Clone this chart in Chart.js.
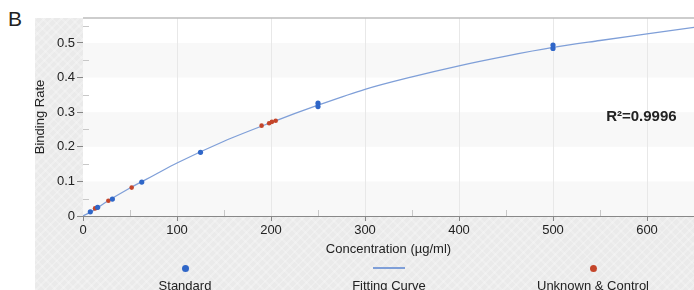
<!DOCTYPE html>
<html><head><meta charset="utf-8">
<script src="https://cdn.jsdelivr.net/npm/chart.js@4/dist/chart.umd.min.js"></script>
<style>
html,body{margin:0;padding:0;background:#fff;}
#wrap{position:relative;width:694px;height:290px;overflow:hidden;font-family:"Liberation Sans",Arial,sans-serif;}
#bg{position:absolute;left:35px;top:18px;width:659px;height:272px;background:#eaeaea;
 background-image:repeating-linear-gradient(135deg,rgba(255,255,255,0.25) 0 2px,rgba(0,0,0,0) 2px 6px),repeating-linear-gradient(45deg,rgba(255,255,255,0.2) 0 2px,rgba(0,0,0,0) 2px 7px);}
#panel{position:absolute;left:8px;top:7px;font-size:21px;color:#222;}
canvas{position:absolute;left:0;top:0;}
.leg{position:absolute;top:262px;width:200px;text-align:center;font-size:13px;color:#222;}
.leg .sym{height:12px;display:flex;align-items:center;justify-content:center;margin-bottom:4px;}
.dot{width:7px;height:7px;border-radius:50%;}
.ln{width:32px;height:1.5px;}
</style></head>
<body><div id="wrap"><div id="bg"></div><div id="panel">B</div>
<canvas id="c" width="698" height="290"></canvas>
<div id="legend"></div></div>
<script>
// ---- data ----
const standardX = [7.8, 15.6, 31.25, 62.5, 125, 250, 250, 500, 500];
const standardY = [0.012, 0.025, 0.049, 0.098, 0.184, 0.316, 0.326, 0.484, 0.494];
const unknownX = [12.8, 14.8, 27, 51.8, 190, 198, 201, 205];
const unknownY = [0.022, 0.024, 0.044, 0.082, 0.261, 0.268, 0.272, 0.275];
const curveX = [0, 10, 25, 50, 75, 100, 150, 200, 250, 300, 350, 400, 450, 500, 550, 600, 650];
const curveY = [0, 0.014, 0.041, 0.081, 0.117, 0.153, 0.216, 0.270, 0.320, 0.366, 0.402, 0.434, 0.462, 0.487, 0.507, 0.526, 0.545];
const xTicks = [0, 100, 200, 300, 400, 500, 600];
const yTicks = [0, 0.1, 0.2, 0.3, 0.4, 0.5];
const seriesNames = ["Standard", "Fitting Curve", "Unknown & Control"];
const r2Text = "R²=0.9996";
const r2Pos = [594, 0.286];

const blue = "#2f66c8", red = "#c4452a", lineCol = "#7f9fd8";
const toPts = (xs, ys) => xs.map((x, i) => ({x: x, y: ys[i]}));

const fmtY = v => (v === 0 ? "0" : v.toFixed(1));

const decor = {
  id: "decor",
  beforeDatasetsDraw(chart) {
    const {ctx, chartArea: a, scales: {x, y}} = chart;
    ctx.save();
    ctx.fillStyle = "#fff";
    ctx.fillRect(a.left, a.top, a.right - a.left, a.bottom - a.top);
    ctx.fillStyle = "#f8f8f8";
    for (let i = 0; i < yTicks.length - 1; i += 2) {
      const y0 = y.getPixelForValue(yTicks[i]), y1 = y.getPixelForValue(yTicks[i + 1]);
      ctx.fillRect(a.left, y1, a.right - a.left, y0 - y1);
    }
    ctx.strokeStyle = "#e8e8e8"; ctx.lineWidth = 1;
    xTicks.forEach(v => { if (v === 0) return; const px = Math.round(x.getPixelForValue(v)) + 0.5;
      ctx.beginPath(); ctx.moveTo(px, a.top); ctx.lineTo(px, a.bottom); ctx.stroke(); });
    ctx.strokeStyle = "#c8c8c8";
    for (let i = 0; i < xTicks.length; i++) { const v = xTicks[i] + 50; if (v >= x.max) break;
      const px = Math.round(x.getPixelForValue(v)) + 0.5;
      ctx.beginPath(); ctx.moveTo(px, a.bottom); ctx.lineTo(px, a.bottom - 6); ctx.stroke(); }
    for (let i = 0; i < yTicks.length; i++) { const v = yTicks[i] + 0.05; if (v >= y.max) break;
      const py = Math.round(y.getPixelForValue(v)) + 0.5;
      ctx.beginPath(); ctx.moveTo(a.left, py); ctx.lineTo(a.left + 6, py); ctx.stroke(); }
    ctx.strokeStyle = "#bdbdbd"; ctx.lineWidth = 1.5;
    ctx.beginPath(); ctx.moveTo(a.left, a.top); ctx.lineTo(a.right, a.top); ctx.stroke();
    ctx.restore();
  },
  afterDraw(chart) {
    const {ctx, scales: {x, y}} = chart;
    ctx.save();
    ctx.font = "bold 15px 'Liberation Sans', Arial, sans-serif";
    ctx.fillStyle = "#222"; ctx.textAlign = "center"; ctx.textBaseline = "middle";
    ctx.fillText(r2Text, x.getPixelForValue(r2Pos[0]), y.getPixelForValue(r2Pos[1]));
    ctx.restore();
  }
};

const chart = new Chart(document.getElementById("c"), {
  type: "scatter",
  data: { datasets: [
    { label: seriesNames[1], type: "line", data: toPts(curveX, curveY), borderColor: lineCol, borderWidth: 1.3,
      pointRadius: 0, cubicInterpolationMode: "monotone", fill: false, order: 3 },
    { label: seriesNames[0], data: toPts(standardX, standardY), backgroundColor: blue, borderColor: blue,
      pointRadius: 2.6, borderWidth: 0, order: 1 },
    { label: seriesNames[2], data: toPts(unknownX, unknownY), backgroundColor: red, borderColor: red,
      pointRadius: 2.3, borderWidth: 0, order: 2 }
  ]},
  options: {
    responsive: false, animation: false, devicePixelRatio: 1,
    layout: { padding: { left: 33, top: 18, right: 0, bottom: 32 } },
    plugins: { legend: { display: false }, tooltip: { enabled: false } },
    scales: {
      x: { type: "linear", min: 0, max: 650,
        afterFit: s => { s.height = 42; },
        afterBuildTicks: s => { s.ticks = xTicks.map(v => ({value: v})); },
        ticks: { color: "#222", font: { size: 13, family: "'Liberation Sans', Arial, sans-serif" }, padding: 2, maxRotation: 0 },
        grid: { drawOnChartArea: false, tickLength: 5, tickColor: "#888" },
        border: { color: "#888", width: 1 },
        title: { display: true, text: "Concentration (µg/ml)", color: "#222", padding: { top: 0, bottom: 1 },
          font: { size: 13, family: "'Liberation Sans', Arial, sans-serif" } } },
      y: { type: "linear", min: 0, max: 0.572,
        afterFit: s => { s.width = 50; },
        afterBuildTicks: s => { s.ticks = yTicks.map(v => ({value: v})); },
        ticks: { color: "#222", font: { size: 13, family: "'Liberation Sans', Arial, sans-serif" }, padding: 2,
          callback: v => fmtY(v) },
        grid: { drawOnChartArea: false, tickLength: 6, tickColor: "#888" },
        border: { color: "#888", width: 1 },
        title: { display: true, text: "Binding Rate", color: "#222", padding: 0,
          font: { size: 13, family: "'Liberation Sans', Arial, sans-serif" } } }
    }
  },
  plugins: [decor]
});

const legCenters = [185, 389, 593];
const order = [1, 0, 2];
const legend = document.getElementById("legend");
order.forEach((di, k) => {
  const ds = chart.data.datasets[di];
  const d = document.createElement("div"); d.className = "leg"; d.style.left = (legCenters[k] - 100) + "px";
  const sym = document.createElement("div"); sym.className = "sym";
  const m = document.createElement("div");
  if (ds.type === "line") { m.className = "ln"; m.style.background = ds.borderColor; }
  else { m.className = "dot"; m.style.background = ds.backgroundColor; }
  sym.appendChild(m); d.appendChild(sym);
  const t = document.createElement("div"); t.textContent = ds.label; d.appendChild(t);
  legend.appendChild(d);
});
</script></body></html>
